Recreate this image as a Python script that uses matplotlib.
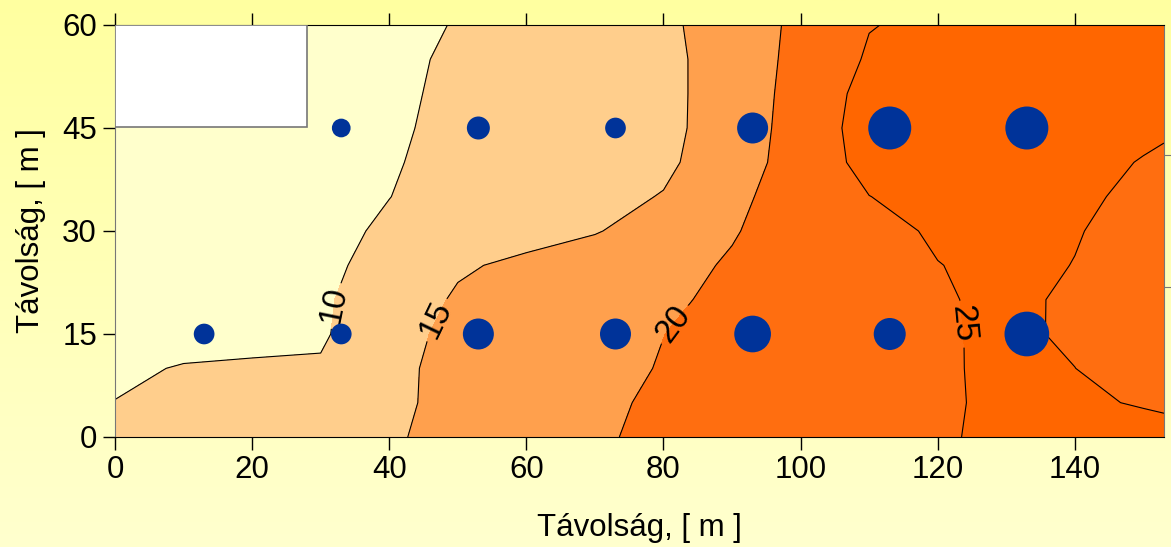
import numpy as np
import matplotlib
matplotlib.use("Agg")
import matplotlib.pyplot as plt
from matplotlib.patches import Rectangle

plt.rcParams['font.family'] = ['Liberation Sans', 'DejaVu Sans']

grid_x = [0, 10, 20, 30, 40, 50, 60, 70, 80, 90, 100, 110, 120, 130, 140, 150, 153]
grid_y = [0, 5, 10, 15, 20, 25, 30, 35, 40, 45, 50, 55, 60]
z_y0 = [11.0, 11.5, 12.0, 12.5, 14.53, 16.27, 17.93, 19.59, 20.74, 21.73, 22.71, 23.70, 24.68, 25.6, 26.0, 25.5, 26.8]
z_y5 = [10.1, 10.8, 11.2, 11.6, 14.2, 16.12, 17.72, 19.31, 20.58, 21.6, 22.61, 23.63, 24.64, 25.5, 25.2, 24.9, 24.2]
z_y10 = [9.0, 10.34, 10.51, 10.4, 13.9, 16.4, 17.38, 18.83, 20.22, 21.32, 22.42, 23.52, 24.62, 25.6, 25.02, 23.49, 23.0]
z_y15 = [7.0, 7.91, 8.82, 9.5, 12.9, 16.5, 17.14, 18.56, 19.97, 21.14, 22.30, 23.47, 24.63, 25.6, 24.55, 23.51, 23.2]
z_y20 = [5.0, 6.50, 7.99, 9.49, 12.0, 15.6, 16.68, 18.04, 19.42, 20.77, 22.08, 23.40, 24.72, 25.59, 24.57, 23.59, 23.3]
z_y25 = [5.0, 6.45, 7.89, 9.34, 11.0, 14.4, 15.99, 17.43, 18.88, 20.35, 21.87, 23.40, 24.92, 25.82, 24.93, 23.83, 23.5]
z_y30 = [5.0, 6.36, 7.72, 9.09, 10.47, 11.88, 13.30, 14.72, 17.11, 19.74, 21.79, 23.77, 25.48, 26.28, 25.18, 23.9, 23.5]
z_y35 = [5.0, 6.24, 7.48, 8.72, 9.96, 11.24, 12.51, 13.79, 15.19, 18.98, 22.11, 24.95, 26.39, 27.2, 25.69, 24.19, 23.74]
z_y40 = [5.0, 6.18, 7.36, 8.55, 9.73, 10.95, 12.19, 13.43, 14.2, 17.5, 22.32, 26.32, 26.87, 27.71, 26.25, 24.8, 24.36]
z_y45 = [5.0, 6.14, 7.27, 8.41, 9.55, 10.75, 12.0, 13.26, 14.0, 16.9, 22.27, 26.8, 27.2, 28.0, 26.91, 25.83, 25.5]
z_y50 = [5.0, 6.10, 7.21, 8.31, 9.42, 10.61, 11.90, 13.20, 14.0, 16.8, 21.97, 26.43, 26.6, 27.0, 27.87, 28.74, 29.0]
z_y55 = [5.0, 6.08, 7.15, 8.23, 9.30, 10.47, 11.81, 13.15, 14.0, 16.8, 21.56, 25.47, 26.01, 26.92, 27.82, 28.73, 29.0]
z_y60 = [5.0, 6.0, 7.0, 8.1, 9.1, 10.16, 11.63, 13.09, 14.2, 17.0, 21.16, 24.85, 25.81, 26.78, 27.74, 28.7, 29.0]

levels = [0, 10, 15, 20, 25, 40]
fill_colors = ['#FFFFCC', '#FFCE8C', '#FFA04D', '#FF6E10', '#FF6600']
label_levels = [10, 15, 20, 25]
label_pos = [(33.3, 19), (47, 17), (81.2, 16.7), (122.5, 16.3)]

# measuring points and their dot diameters (px)
pt_x = [13, 33, 53, 73, 93, 113, 133, 33, 53, 73, 93, 113, 133]
pt_y = [15, 15, 15, 15, 15, 15, 15, 45, 45, 45, 45, 45, 45]
pt_diam = [20.7, 20.7, 31, 31, 36.7, 32, 44.7, 18.7, 23, 20.7, 31, 43, 43]

x_ticks = [0, 20, 40, 60, 80, 100, 120, 140]
y_ticks = [0, 15, 30, 45, 60]
right_ticks = [21.8, 41.1]
blank_box = (0, 45.2, 28, 14.8)   # x, y, width, height

Z = np.array([z_y0, z_y5, z_y10, z_y15, z_y20, z_y25, z_y30,
              z_y35, z_y40, z_y45, z_y50, z_y55, z_y60])

fig = plt.figure(figsize=(11.71, 5.47), dpi=100)

# yellow gradient background
bg = fig.add_axes([0, 0, 1, 1], zorder=-1)
grad = np.linspace(0, 1, 256).reshape(-1, 1)
top_c = np.array([255, 255, 160]) / 255
bot_c = np.array([255, 255, 206]) / 255
img = top_c[None, None, :] * (1 - grad[:, :, None]) + bot_c[None, None, :] * grad[:, :, None]
bg.imshow(img, aspect='auto', extent=[0, 1, 0, 1])
bg.axis('off')

ax = fig.add_axes([0.0982, 0.2011, 0.8958, 0.7532])
ax.contourf(grid_x, grid_y, Z, levels=levels, colors=fill_colors)
cs = ax.contour(grid_x, grid_y, Z, levels=label_levels, colors='black', linewidths=0.8)
ax.clabel(cs, label_levels, inline=True, fontsize=24, fmt='%d', manual=label_pos)

ax.add_patch(Rectangle(blank_box[:2], blank_box[2], blank_box[3],
                       facecolor='white', edgecolor='#777777', lw=1.2, zorder=4))

sizes = [(d * 0.72) ** 2 for d in pt_diam]
ax.scatter(pt_x, pt_y, s=sizes, color='#003399', zorder=5, linewidths=0)

ax.set_xlim(0, 153)
ax.set_ylim(0, 60)
ax.set_xticks(x_ticks)
ax.set_yticks(y_ticks)
ax.tick_params(direction='out', length=9, width=1, labelsize=22.5, pad=4, top=True)
ax.set_xlabel('Távolság, [ m ]', fontsize=22.5, labelpad=20)
ax.set_ylabel('Távolság, [ m ]', fontsize=22.5, labelpad=12)
for side in ['left', 'right']:
    ax.spines[side].set_color('#777777')
for side in ['top', 'bottom']:
    ax.spines[side].set_color('black')

ax2 = ax.twinx()
ax2.set_ylim(0, 60)
ax2.set_yticks(right_ticks)
ax2.set_yticklabels([])
ax2.tick_params(direction='out', length=9, color='#777777')
for s in ax2.spines.values():
    s.set_visible(False)

fig.savefig('out.png', dpi=100)
